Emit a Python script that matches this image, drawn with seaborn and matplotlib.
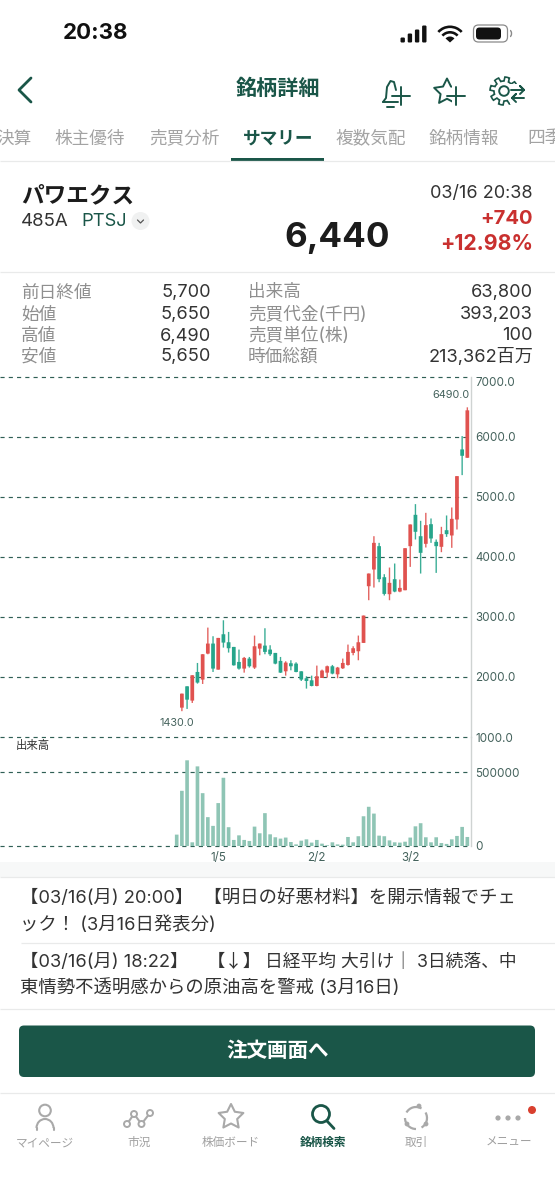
import matplotlib
matplotlib.use("Agg")
import matplotlib.pyplot as plt
from matplotlib.patches import Circle, FancyBboxPatch, Polygon, Rectangle, Wedge, Arc
import numpy as np
import seaborn as sns

# candles, first day only has volume
opens = [np.nan, 1489, 1844, 1606, 2083, 1956, 2389, 2556, 2122, 2711, 2578, 2500, 2250, 2139, 2306, 2156, 2472, 2522, 2456,
         2400, 2267, 2094, 2228, 2222, 2094, 1978, 1944, 1850, 1983, 2072, 2178, 2044, 2144, 2200, 2400, 2428, 2567,
         3511, 3789, 4178, 3661, 3378, 3628, 3422, 3444, 4178, 4700, 4344, 4217, 4544, 4250, 4167, 4444, 4356, 4622, 5789, 5650]
closes = [np.nan, 1722, 1622, 2028, 1906, 2378, 2556, 2139, 2650, 2572, 2478, 2194, 2139, 2317, 2178, 2511, 2556, 2417, 2378,
          2222, 2072, 2239, 2178, 2083, 1956, 1933, 1850, 2011, 2106, 2178, 2056, 2156, 2233, 2417, 2478, 2578, 3022,
          3722, 4233, 3628, 3383, 3567, 3422, 3483, 4144, 4539, 4417, 4067, 4528, 4306, 4178, 4378, 4378, 4633, 5344, 5683, 6440]
highs = [np.nan, 1722, 1844, 2028, 2233, 2378, 2822, 2678, 2650, 2944, 2750, 2500, 2456, 2333, 2333, 2689, 2556, 2811, 2528,
         2400, 2333, 2261, 2278, 2244, 2094, 2011, 2022, 2189, 2122, 2189, 2200, 2167, 2306, 2539, 2511, 2689, 3022,
         3722, 4344, 4233, 3711, 3822, 3889, 3622, 4144, 4539, 4878, 4600, 4733, 4639, 4289, 4500, 4689, 4822, 5344, 6011, 6490]
lows = [np.nan, 1430, 1467, 1567, 1889, 1883, 2378, 2083, 2122, 2489, 2406, 2189, 2122, 2072, 2156, 2133, 2361, 2378, 2350,
        2211, 2067, 2022, 2111, 2078, 1933, 1806, 1844, 1844, 1983, 1989, 2044, 1978, 2133, 2189, 2361, 2278, 2567,
        3278, 3489, 3578, 3356, 3278, 3411, 3411, 3444, 3833, 4289, 3722, 4156, 4233, 3733, 4078, 4333, 4150, 4456, 5361, 5650]
volumes = [76900, 373000, 579000, 25000, 538000, 357000, 195000, 136000, 290000, 461000, 127000, 41000, 72000, 41000, 34000,
           131000, 86000, 222000, 79000, 59000, 50000, 57000, 27000, 11000, 36000, 45000, 23000, 41000, 16000, 5000, 25000,
           11000, 9000, 61000, 25000, 66000, 201000, 265000, 219000, 70000, 66000, 38000, 25000, 23000, 29000, 57000,
           133000, 154000, 59000, 25000, 59000, 20000, 14000, 45000, 68000, 129000, 61000]
price_ticks = [1000, 2000, 3000, 4000, 5000, 6000, 7000]
volume_ticks = [0, 500000]
date_pos = [8, 27, 45]
date_labels = ["1/5", "2/2", "3/2"]

tabs = ["株主優待", "売買分析", "サマリー", "複数気配", "銘柄情報"]
left_rows = [("前日終値", "5,700"), ("始値", "5,650"), ("高値", "6,490"), ("安値", "5,650")]
right_rows = [("出来高", "63,800"), ("売買代金(千円)", "393,203"), ("売買単位(株)", "100"), ("時価総額", "213,362百万")]
nav_labels = ["マイページ", "市況", "株価ボード", "銘柄検索", "取引", "メニュー"]

RED = "#e0524f"
GREEN = "#26a58b"
DARK = "#1a5648"
AXIS_TXT = "#44625c"
GREY_TXT = "#a3a3a3"
W, H = 555, 1200

sns.set_theme(style="white")
plt.rcParams["font.family"] = ["Inter", "Noto Sans CJK JP", "DejaVu Sans"]

fig = plt.figure(figsize=(W / 100, H / 100), dpi=100, facecolor="white")


def rect(l, t, r, b):
    return [l / W, 1 - b / H, (r - l) / W, (b - t) / H]


ui = fig.add_axes([0, 0, 1, 1])
ui.set_xlim(0, W)
ui.set_ylim(H, 0)
ui.axis("off")


def txt(x, y, s, size=12.7, color="#2a2a2a", ha="left", weight="normal", **kw):
    ui.text(x, y, s, fontsize=size, color=color, ha=ha, va="center", fontweight=weight, **kw)


def hline(y, x0=0, x1=W, color="#e9eaea", lw=0.9):
    ui.plot([x0, x1], [y, y], color=color, lw=lw, solid_capstyle="butt")


def stroke(xs, ys, color=DARK, lw=1.4):
    ui.plot(xs, ys, color=color, lw=lw, solid_capstyle="round", solid_joinstyle="round")


def star(cx, cy, r, color, lw=1.4):
    ang = np.pi / 2 + np.arange(10) * np.pi / 5
    rad = np.where(np.arange(10) % 2 == 0, r, r * 0.5)
    ui.add_patch(Polygon(np.c_[cx + rad * np.cos(ang), cy - rad * np.sin(ang)], closed=True,
                         fill=False, ec=color, lw=lw, joinstyle="round"))


# status bar
txt(96, 33, "20:38", size=16, color="#111111", ha="center", weight="bold")
for i, h in enumerate([5, 9, 13, 17]):
    ui.add_patch(FancyBboxPatch((400.5 + i * 7.2, 42.5 - h), 4.4, h, boxstyle="round,pad=0,rounding_size=1.2", fc="#111111", ec="none"))
for r, w in [(17, 2.6), (11.5, 2.6), (6, 6)]:
    ui.add_patch(Wedge((450, 42.5), r, 222, 318, width=w, fc="#111111", ec="none"))
ui.add_patch(FancyBboxPatch((473.5, 25), 34, 17, boxstyle="round,pad=0,rounding_size=5", fc="none", ec="#8a8a8a", lw=0.9))
ui.add_patch(FancyBboxPatch((476, 27.5), 25, 12, boxstyle="round,pad=0,rounding_size=3.5", fc="#111111", ec="none"))
ui.add_patch(Arc((510, 33.5), 3, 6, theta1=-90, theta2=90, color="#8a8a8a", lw=1))

# header
stroke([31, 19, 31], [78, 90, 102], lw=2.0)
txt(278, 89, "銘柄詳細", size=15.2, color=DARK, ha="center", weight="bold")
# bell
stroke([383, 386, 387, 390.5, 394, 395, 396], [102, 98, 87, 81, 82, 86, 90])
stroke([383, 398], [102, 102])
stroke([387, 394], [106.5, 106.5])
stroke([401, 401], [87, 105])
stroke([392, 410], [96, 96])
star(447, 92, 13.5, DARK)
ui.add_patch(Rectangle((452, 85), 10, 21, fc="white", ec="none"))
stroke([456, 456], [87, 105])
stroke([447, 465], [96, 96])
# gear with arrows
ang = np.linspace(0, 2 * np.pi, 97)
rad = 12 + 2 * np.sign(np.sin(8 * ang))
ui.fill(504 + rad * np.cos(ang), 91 + rad * np.sin(ang), fc="none", ec=DARK, lw=1.2)
ui.add_patch(Circle((504, 91), 4.8, fc="none", ec=DARK, lw=1.4))
ui.add_patch(Rectangle((510, 84), 18, 20, fc="white", ec="none"))
stroke([511, 524, 520, 524, 520], [90, 90, 86, 90, 94])
stroke([524, 512, 516, 512, 516], [98, 98, 94, 98, 102])

# tabs, the two outer ones run off the screen as in the app
txt(32, 139, "決算", size=12.7, color=GREY_TXT, ha="right")
for x, s in zip([90, 184, 278, 371, 464], tabs):
    active = s == "サマリー"
    txt(x, 139, s, size=12.7, color=DARK if active else GREY_TXT, ha="center", weight="bold" if active else "normal")
txt(527, 139, "四季", size=12.7, color=GREY_TXT)
hline(161)
ui.add_patch(Rectangle((231, 158), 93, 2.8, fc=DARK, ec="none"))

# quote block
txt(21, 196, "パワエクス", size=16.3, color="#1c1c1c", weight="bold")
txt(21, 221, "485A", size=13.4, color="#333333")
txt(81, 221, "PTSJ", size=13.2, color=DARK)
ui.add_patch(Circle((140.5, 221), 9, fc="#f0f1f1", ec="none"))
stroke([137.5, 140.5, 143.5], [220, 223, 220], color="#555555", lw=0.9)
txt(533, 193, "03/16 20:38", size=13, color="#333333", ha="right")
txt(533, 219, "+740", size=14.6, color="#c9302f", ha="right", weight="bold")
txt(533, 244, "+12.98%", size=15.3, color="#c9302f", ha="right", weight="bold")
txt(390, 238, "6,440", size=25.2, color="#1c1c1c", ha="right", weight="bold")
hline(271.5)
for y, (a, b), (c, d) in zip([293, 315, 336, 357], left_rows, right_rows):
    txt(21, y, a, color="#8f8f8f")
    txt(211, y, b, size=13.1, color="#333333", ha="right")
    txt(248, y, c, color="#8f8f8f")
    txt(533, y, d, size=13.1, color="#333333", ha="right")

# price chart
x0, step = 176.7, 5.19
xlim = (-x0 / step, (471 - x0) / step)
days = np.arange(len(volumes))
o, c, hi, lo = map(np.array, (opens, closes, highs, lows))
ax = fig.add_axes(rect(0, 376.7, 471, 737), facecolor="none")
colors = [RED if b >= a else GREEN for a, b in zip(o, c)]
wicks = ax.vlines(days, lo, hi, colors=colors, lw=1.0, alpha=0.9, zorder=3)
wicks.set_snap(False)
bodies = ax.bar(days, np.abs(c - o), bottom=np.minimum(o, c), width=0.72, color=colors, linewidth=0, zorder=4)
for p in bodies:
    p.set_snap(False)
ax.set_xlim(*xlim)
ax.set_ylim(1000, 7000)
ax.set_yticks(price_ticks)
ax.set_yticklabels([f"{t:.1f}" for t in price_ticks])
ax.set_xticks([])
ax.yaxis.tick_right()
ax.tick_params(axis="y", length=0, pad=3, labelsize=8.4, labelcolor=AXIS_TXT)
ax.yaxis.get_ticklabels()[-1].set_verticalalignment("top")
ax.grid(axis="y", color="#2f5f55", lw=0.85, linestyle=(0, (3.5, 3.5)), clip_on=False)
for side in ["top", "left", "bottom"]:
    ax.spines[side].set_visible(False)
ax.spines["right"].set_color("#cfd3d2")
ax.spines["right"].set_linewidth(1)
ax.annotate(f"{max(highs[1:]):.1f}", (days[-1], max(highs[1:])), xytext=(1.5, 5), textcoords="offset points",
            ha="right", va="bottom", fontsize=7.8, color=AXIS_TXT)
ax.annotate(f"{min(lows[1:]):.1f}", (days[1], min(lows[1:])), xytext=(-4, -5), textcoords="offset points",
            ha="center", va="top", fontsize=7.8, color=AXIS_TXT)

# volume chart
ax2 = fig.add_axes(rect(0, 737, 471, 846), facecolor="none")
sns.barplot(x=days, y=volumes, native_scale=True, width=0.7, color="#8fc5b5", saturation=1, linewidth=0, ax=ax2, zorder=3)
for p in ax2.patches:
    p.set_snap(False)
ax2.set_xlim(*xlim)
ax2.set_ylim(0, 736500)
ax2.set_xlabel("")
ax2.set_ylabel("")
ax2.set_yticks(volume_ticks)
ax2.set_yticklabels([str(t) for t in volume_ticks])
ax2.set_xticks(date_pos)
ax2.set_xticklabels(date_labels)
ax2.yaxis.tick_right()
ax2.tick_params(axis="y", length=0, pad=3, labelsize=8.4, labelcolor=AXIS_TXT)
ax2.tick_params(axis="x", length=0, pad=4, labelsize=8.4, labelcolor=AXIS_TXT)
ax2.grid(axis="y", color="#2f5f55", lw=0.85, linestyle=(0, (3.5, 3.5)), clip_on=False)
for side in ["top", "left", "bottom"]:
    ax2.spines[side].set_visible(False)
ax2.spines["right"].set_color("#cfd3d2")
ax2.spines["right"].set_linewidth(1)
txt(16, 745, "出来高", size=8.2, color="#333333")

# news
ui.add_patch(Rectangle((0, 862), W, 15, fc="#f7f8f8", ec="none"))
hline(877)
txt(20, 898, "【03/16(月) 20:00】  【明日の好悪材料】を開示情報でチェ", size=13.2, color="#333333")
txt(20, 925, "ック！ (3月16日発表分)", size=13.2, color="#333333")
hline(943, x0=21)
txt(20, 962, "【03/16(月) 18:22】", size=13.2, color="#333333")
txt(207, 962, "【↓】", size=13.2, color="#333333", family=["Noto Sans CJK JP", "DejaVu Sans"])
txt(265, 962, "日経平均 大引け｜ 3日続落、中", size=12.8, color="#333333")
txt(20, 988, "東情勢不透明感からの原油高を警戒 (3月16日)", size=13.2, color="#333333")
hline(1009)
ui.add_patch(FancyBboxPatch((19, 1025.5), 516, 51.5, boxstyle="round,pad=0,rounding_size=5", fc="#1a5648", ec="none"))
txt(278, 1051, "注文画面へ", size=14.8, color="white", ha="center", weight="bold")
hline(1092.5)

# bottom nav
ICON = "#a9a9a9"
for x, s in zip([45, 139, 231, 323, 416, 509], nav_labels):
    active = s == "銘柄検索"
    txt(x, 1143, s, size=8.4, color=DARK if active else "#a0a0a0", ha="center", weight="bold" if active else "normal")
ui.add_patch(Circle((45, 1110.5), 5.8, fc="none", ec=ICON, lw=1.5))
ui.add_patch(Arc((45, 1128), 17, 18, theta1=180, theta2=360, color=ICON, lw=1.5))
stroke([36.5, 36.5], [1128, 1130], color=ICON, lw=1.5)
stroke([53.5, 53.5], [1128, 1130], color=ICON, lw=1.5)
pts = [(127, 1124), (134, 1114), (141.5, 1124), (150, 1113)]
stroke([p[0] for p in pts], [p[1] for p in pts], color=ICON, lw=1.5)
for p in pts:
    ui.add_patch(Circle(p, 3, fc="white", ec=ICON, lw=1.4, zorder=3))
star(231, 1117, 13, ICON, lw=1.5)
ui.add_patch(Circle((321, 1114), 8.5, fc="none", ec=DARK, lw=2))
stroke([327, 334], [1121, 1128.5], color=DARK, lw=2)
for t1, t2, tip in [(-30, 60, (419, 1106)), (90, 180, (407, 1124)), (210, 300, (426, 1124))]:
    ui.add_patch(Arc((416, 1118), 22, 22, theta1=t1, theta2=t2, color=ICON, lw=1.6))
    ui.add_patch(Circle(tip, 2.4, fc=ICON, ec="none"))
for x in [498, 508, 518]:
    ui.add_patch(Circle((x, 1118), 2.6, fc=ICON, ec="none"))
ui.add_patch(Circle((532, 1110), 4, fc="#d9402f", ec="none"))

fig.savefig("out.png", dpi=100)
